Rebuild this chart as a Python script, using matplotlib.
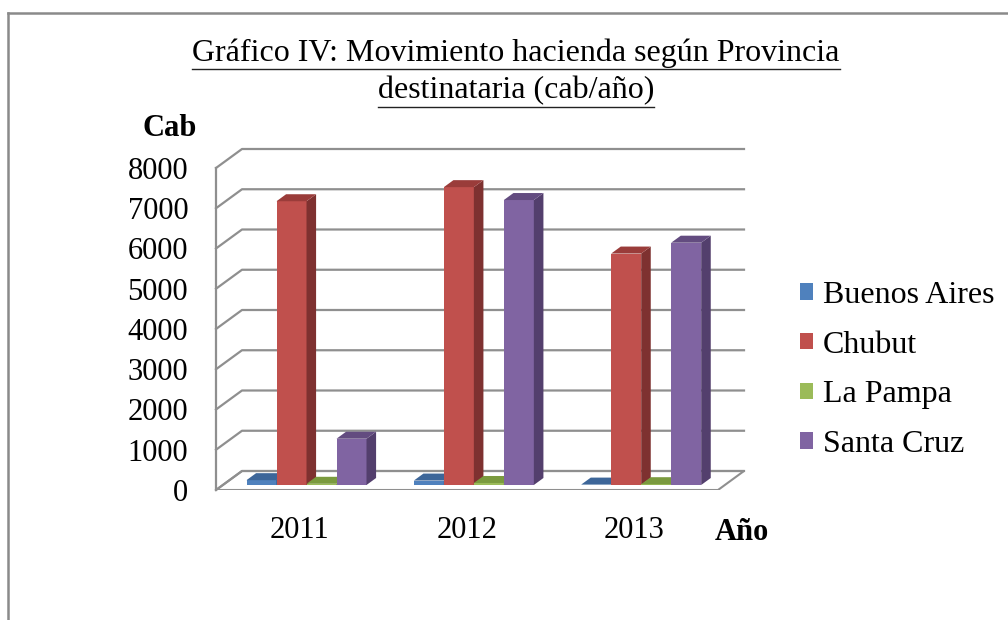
import matplotlib
matplotlib.use('Agg')
import matplotlib.pyplot as plt
from matplotlib.patches import Polygon, Patch
from matplotlib.lines import Line2D

# datos (cabezas por año)
anios = ['2011', '2012', '2013']
provincias = ['Buenos Aires', 'Chubut', 'La Pampa', 'Santa Cruz']
buenos_aires = [120, 110, 10]
chubut = [7050, 7400, 5750]
la_pampa = [30, 50, 20]
santa_cruz = [1150, 7080, 6020]
y_ticks = [0, 1000, 2000, 3000, 4000, 5000, 6000, 7000, 8000]

series = [buenos_aires, chubut, la_pampa, santa_cruz]
# (frente, costado, tapa)
colores = [('#4F81BD', '#2F5180', '#3D6699'),
           ('#C0504D', '#7E3130', '#9A3C3A'),
           ('#9BBB59', '#6B8B30', '#7A9A3E'),
           ('#8064A2', '#533F6D', '#634C80')]
gris = '#8f8f8f'

plt.rcParams['font.family'] = ['Liberation Serif', 'DejaVu Serif']

W, H = 1008, 620
fig = plt.figure(figsize=(W / 100, H / 100), dpi=100)

# geometria en pixeles del grafico "3D" de excel
x_front0, x_front1 = 216, 718
y_cero, y_tope = 490, 168
prof_x, prof_y = 26, 19

ax = fig.add_axes([x_front0 / W, (H - y_cero) / H,
                   (x_front1 + prof_x - x_front0) / W,
                   (y_cero - y_tope + prof_y) / H])
ppx = (x_front1 - x_front0) / len(anios)
ppy = (y_cero - y_tope) / y_ticks[-1]
DX = prof_x / ppx
DY = prof_y / ppy
ax.set_xlim(0, len(anios) + DX)
ax.set_ylim(0, y_ticks[-1] + DY)
for s in ax.spines.values():
    s.set_visible(False)

# piso y paredes
ax.add_patch(Polygon([(0, 0), (len(anios), 0), (len(anios) + DX, DY), (DX, DY)],
                     closed=True, facecolor='white', edgecolor=gris, lw=1.5, zorder=0.4))
for v in y_ticks:
    ax.plot([0, DX, len(anios) + DX], [v, v + DY, v + DY], color=gris, lw=1.6,
            zorder=0.5, clip_on=False)
ax.plot([0, 0], [0, y_ticks[-1]], color=gris, lw=1.6, zorder=0.5, clip_on=False)

# barras
bw = 30 / ppx
f0 = 5 / 19
fd = 7 / 19
base = f0 * DY
for k, serie in enumerate(series):
    frente, costado, tapa = colores[k]
    xs = [i + 0.5 - 2 * bw + k * bw + f0 * DX for i in range(len(anios))]
    ax.bar(xs, serie, width=bw, bottom=base, align='edge', color=frente,
           lw=0, zorder=1)
    for x, v in zip(xs, serie):
        xr = x + bw
        top = base + v
        ax.add_patch(Polygon([(xr, base), (xr + fd * DX, base + fd * DY),
                              (xr + fd * DX, top + fd * DY), (xr, top)],
                             closed=True, facecolor=costado, lw=0, zorder=1))
        ax.add_patch(Polygon([(x, top), (xr, top), (xr + fd * DX, top + fd * DY),
                              (x + fd * DX, top + fd * DY)],
                             closed=True, facecolor=tapa, lw=0, zorder=1))

ax.set_yticks(y_ticks)
ax.set_yticklabels([str(v) for v in y_ticks])
ax.set_xticks([i + 0.5 for i in range(len(anios))])
ax.set_xticklabels(anios)
ax.tick_params(axis='y', length=0, pad=20, labelsize=22)
ax.tick_params(axis='x', length=0, pad=19, labelsize=22)

fig.text(170 / W, 1 - 128 / H, 'Cab', fontsize=22, weight='bold',
         ha='center', va='center')
fig.text(742 / W, 1 - 533 / H, 'Año', fontsize=22, weight='bold',
         ha='center', va='center')

# titulo subrayado
t1 = fig.text(516 / W, 1 - 53 / H, 'Gráfico IV: Movimiento hacienda según Provincia',
              fontsize=23, ha='center', va='center')
t2 = fig.text(516 / W, 1 - 91 / H, 'destinataria (cab/año)',
              fontsize=23, ha='center', va='center')
fig.canvas.draw()
r = fig.canvas.get_renderer()
for t, yl in ((t1, 69), (t2, 107)):
    bb = t.get_window_extent(r)
    fig.add_artist(Line2D([bb.x0 / W, bb.x1 / W], [1 - yl / H, 1 - yl / H],
                          color='#222222', lw=1.0))

# leyenda
handles = [Patch(facecolor=c[0], edgecolor='none') for c in colores]
fig.legend(handles, provincias, loc='center left',
           bbox_to_anchor=(800 / W, 1 - 370 / H), frameon=False, fontsize=23,
           handlelength=0.42, handleheight=0.42, handletextpad=0.3,
           labelspacing=0.65, borderpad=0, borderaxespad=0)

# marco exterior
fig.add_artist(Line2D([8 / W, 1], [1 - 13 / H, 1 - 13 / H], color='#8a8a8a', lw=1.8))
fig.add_artist(Line2D([8 / W, 8 / W], [0, 1 - 13 / H], color='#8a8a8a', lw=1.8))

fig.savefig('out.png', dpi=100)
